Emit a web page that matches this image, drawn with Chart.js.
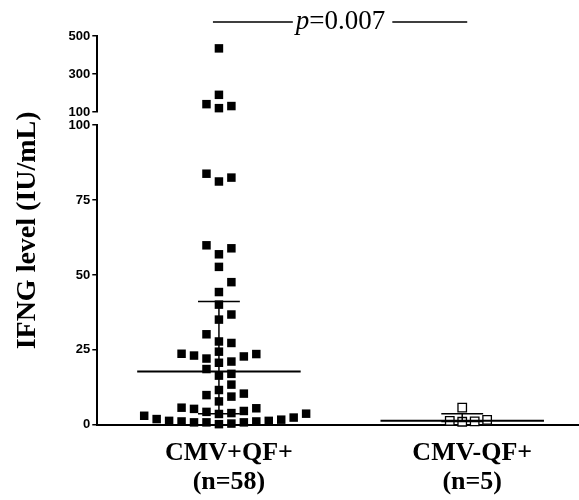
<!DOCTYPE html>
<html>
<head>
<meta charset="utf-8">
<script src="https://cdn.jsdelivr.net/npm/chart.js@4.4.1/dist/chart.umd.min.js"></script>
<style>
  html, body { margin: 0; padding: 0; background: #fff; }
</style>
</head>
<body>
<canvas id="ifngChart" width="579" height="500"></canvas>
<script>
// data
const groupLabels = [['CMV+QF+', '(n=58)'], ['CMV-QF+', '(n=5)']];
const groupPositions = [1, 2];
const cmvPosIfng = [
  435, 191, 142, 132, 121,
  83.8, 82.5, 81.2,
  59.9, 58.9, 56.9, 52.7,
  47.6, 44.3, 40.1,
  36.8, 35.1, 30.2,
  27.8, 27.3, 24.4, 23.7, 23.6, 23.1, 22.8, 22.1, 21.1, 20.7, 18.6,
  17.0, 16.4, 13.4, 11.6, 10.4, 9.9,
  9.4, 7.8, 5.7, 5.5, 5.3, 4.6, 4.3, 3.9, 3.7, 3.6,
  3.0, 2.4, 1.9, 1.7, 1.3, 1.3, 1.1, 1.1, 0.8, 0.8, 0.8, 0.4, 0.2,
];
const cmvNegIfng = [5.7, 1.3, 1.0, 1.1, 1.6];
const lowerTicks = [0, 25, 50, 75, 100];
const upperTicks = [100, 300, 500];
const pValue = '0.007';

// layout of the broken axis (stack weights ~ pixel heights)
const LOW_H = 299, GAP_H = 13, HIGH_H = 76;
const BREAK_AT = lowerTicks[lowerTicks.length - 1];
const LANE = 0.0512;        // horizontal step between neighbouring dots
const DOT_GAP = 10;         // min vertical distance before dots get pushed sideways
const MEDIAN_HALF = 0.336;
const CAP_HALF = 0.086;

const serif = '"Liberation Serif", "Times New Roman", serif';
const sans = '"Liberation Sans", Arial, sans-serif';

function bandPos(v) {
  if (v <= BREAK_AT) return v / BREAK_AT * LOW_H;
  const top = upperTicks[upperTicks.length - 1];
  return LOW_H + GAP_H + (v - BREAK_AT) / (top - BREAK_AT) * HIGH_H;
}

// simple column scatter: sideways lanes 0, +1, -1, +2, -2 ...
function swarm(values, center) {
  const placed = [];
  const lanes = [];
  const order = values.map((v, i) => i).sort((a, b) => values[a] - values[b]);
  order.forEach(i => {
    const p = bandPos(values[i]);
    for (let k = 0; ; k++) {
      const lane = k === 0 ? 0 : (k % 2 ? (k + 1) / 2 : -k / 2);
      if (!placed.some(q => q.lane === lane && Math.abs(q.p - p) < DOT_GAP)) {
        placed.push({ lane, p });
        lanes[i] = lane;
        break;
      }
    }
  });
  const pts = values.map((v, i) => ({ x: center + lanes[i] * LANE, y: v }));
  return {
    low: pts.filter(p => p.y <= BREAK_AT),
    high: pts.filter(p => p.y > BREAK_AT),
  };
}

function quantile(values, q) {
  const s = [...values].sort((a, b) => a - b);
  const pos = q * (s.length + 1) - 1;
  const lo = Math.max(0, Math.min(s.length - 1, Math.floor(pos)));
  const hi = Math.min(s.length - 1, lo + 1);
  return s[lo] + (pos - Math.floor(pos)) * (s[hi] - s[lo]);
}

function seg(xs, ys, width) {
  return {
    data: xs.map((x, i) => ({ x, y: ys[i] })),
    yAxisID: 'yLow',
    showLine: true,
    borderColor: '#000',
    borderWidth: width,
    pointRadius: 0,
    pointHoverRadius: 0,
    fill: false,
    clip: false,
  };
}

function statLines(values, c) {
  const med = quantile(values, 0.5);
  const q1 = quantile(values, 0.25);
  const q3 = quantile(values, 0.75);
  return [
    seg([c - MEDIAN_HALF, c + MEDIAN_HALF], [med, med], 2),
    seg([c, c], [q1, q3], 1.5),
    seg([c - CAP_HALF, c + CAP_HALF], [q3, q3], 1.5),
    seg([c - CAP_HALF, c + CAP_HALF], [q1, q1], 1.5),
  ];
}

const posDots = swarm(cmvPosIfng, groupPositions[0]);
const negDots = swarm(cmvNegIfng, groupPositions[1]);

const filled = { pointStyle: 'rect', pointRadius: 6, backgroundColor: '#000', borderColor: '#000', borderWidth: 0, clip: false };
const open = { pointStyle: 'rect', pointRadius: 6, backgroundColor: '#fff', borderColor: '#000', borderWidth: 1.3, clip: false };

const pValuePlugin = {
  id: 'pValue',
  afterDraw(chart) {
    const { ctx, chartArea, scales } = chart;
    const x1 = scales.x.getPixelForValue(groupPositions[0]);
    const x2 = scales.x.getPixelForValue(groupPositions[1]);
    const mid = (x1 + x2) / 2;
    const lineY = chartArea.top - 14;
    ctx.save();
    ctx.fillStyle = '#000';
    ctx.strokeStyle = '#000';
    ctx.lineWidth = 1.5;
    ctx.textBaseline = 'alphabetic';
    ctx.font = `italic 27px ${serif}`;
    const pW = ctx.measureText('p').width;
    ctx.font = `27px ${serif}`;
    const restW = ctx.measureText('=' + pValue).width;
    const start = mid - (pW + restW) / 2;
    ctx.font = `italic 27px ${serif}`;
    ctx.fillText('p', start, chartArea.top - 7);
    ctx.font = `27px ${serif}`;
    ctx.fillText('=' + pValue, start + pW, chartArea.top - 7);
    ctx.beginPath();
    ctx.moveTo(x1 - 6, lineY);
    ctx.lineTo(start - 3, lineY);
    ctx.moveTo(start + pW + restW + 7, lineY);
    ctx.lineTo(x2 + 5, lineY);
    ctx.stroke();
    ctx.restore();
  },
};

const yTickStyle = {
  color: '#000',
  padding: 2,
  font: { family: sans, weight: 'bold', size: 13 },
};
const yGrid = { display: true, drawOnChartArea: false, drawTicks: true, tickLength: 5, color: '#000', lineWidth: 1.5 };
const yBorder = { display: true, color: '#000', width: 2 };

new Chart(document.getElementById('ifngChart'), {
  type: 'scatter',
  data: {
    datasets: [
      ...statLines(cmvPosIfng, groupPositions[0]),
      ...statLines(cmvNegIfng, groupPositions[1]),
      { ...filled, data: posDots.low, yAxisID: 'yLow' },
      { ...filled, data: posDots.high, yAxisID: 'yHigh' },
      { ...open, data: negDots.low, yAxisID: 'yLow' },
      { ...open, data: negDots.high, yAxisID: 'yHigh' },
    ],
  },
  options: {
    responsive: false,
    animation: false,
    events: [],
    layout: { autoPadding: false, padding: { top: 36, left: 0, right: 0, bottom: -11 } },
    plugins: {
      legend: { display: false },
      tooltip: { enabled: false },
      title: {
        display: true,
        text: 'IFNG level (IU/mL)',
        position: 'left',
        fullSize: false,
        color: '#000',
        font: { family: serif, weight: 'bold', size: 28, lineHeight: 1.2 },
        padding: { top: 11, bottom: 22 },
      },
    },
    scales: {
      x: {
        type: 'linear',
        min: 0.5,
        max: 2.48,
        afterBuildTicks: s => { s.ticks = groupPositions.map(v => ({ value: v })); },
        ticks: {
          callback: v => groupLabels[groupPositions.indexOf(v)],
          color: '#000',
          padding: 14,
          labelOffset: 10,
          maxRotation: 0,
          autoSkip: false,
          font: { family: serif, weight: 'bold', size: 26, lineHeight: 1.12 },
        },
        grid: { display: false, drawTicks: false, tickLength: 0 },
        border: { display: true, color: '#000', width: 2 },
      },
      yLow: {
        type: 'linear',
        position: 'left',
        stack: 'ifng',
        stackWeight: LOW_H,
        min: lowerTicks[0],
        max: lowerTicks[lowerTicks.length - 1],
        afterBuildTicks: s => { s.ticks = lowerTicks.map(v => ({ value: v })); },
        ticks: yTickStyle,
        grid: yGrid,
        border: yBorder,
      },
      yGap: {
        type: 'linear',
        position: 'left',
        stack: 'ifng',
        stackWeight: GAP_H,
        min: 0,
        max: 1,
        ticks: { display: false },
        grid: { display: false, drawTicks: false },
        border: { display: false },
      },
      yHigh: {
        type: 'linear',
        position: 'left',
        stack: 'ifng',
        stackWeight: HIGH_H,
        min: upperTicks[0],
        max: upperTicks[upperTicks.length - 1],
        afterBuildTicks: s => { s.ticks = upperTicks.map(v => ({ value: v })); },
        ticks: yTickStyle,
        grid: yGrid,
        border: yBorder,
      },
    },
  },
  plugins: [pValuePlugin],
});
</script>
</body>
</html>
